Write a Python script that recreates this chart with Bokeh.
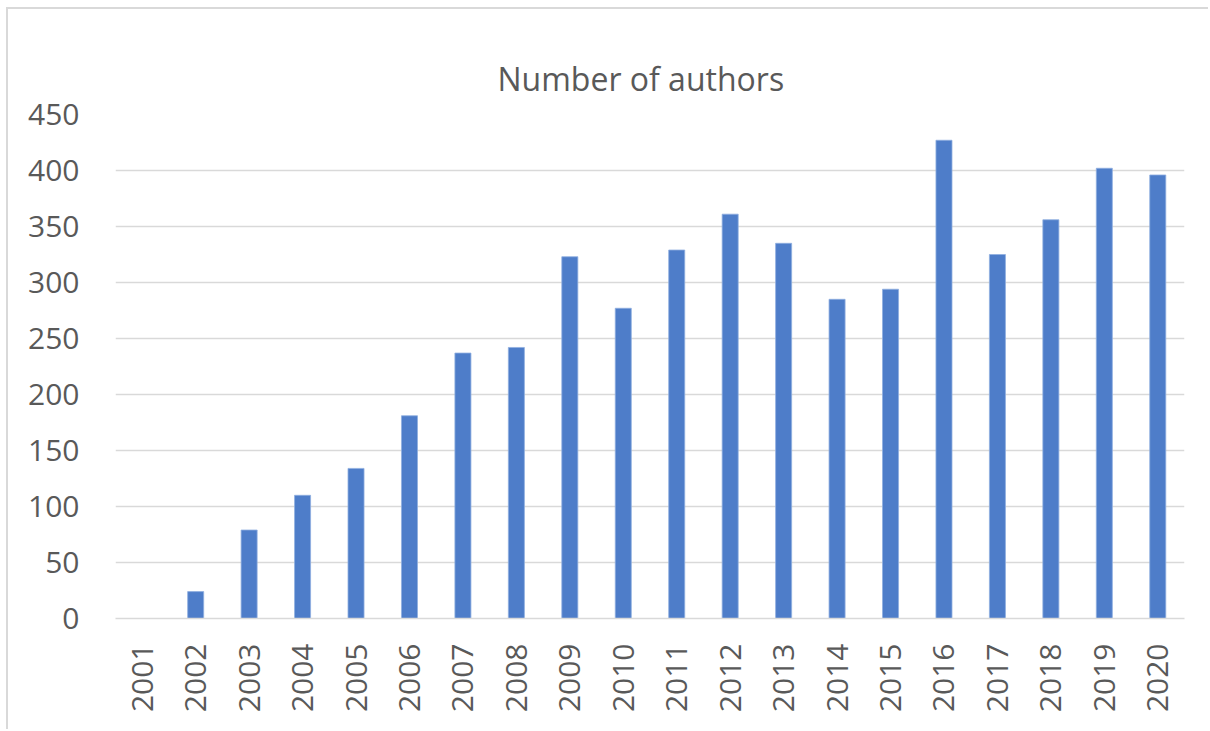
from bokeh.plotting import figure
from bokeh.models import FactorRange, Range1d, SingleIntervalTicker
from bokeh.embed import file_html
from bokeh.resources import INLINE
import math

years = [str(y) for y in range(2001, 2021)]
authors = [0, 24, 79, 110, 134, 181, 237, 242, 323, 277,
           329, 361, 335, 285, 294, 427, 325, 356, 402, 396]

title_text = "Number of authors"
FONT = "Open Sans"
GREY = "#595959"
LINE = "#D9D9D9"

p = figure(
    width=1202, height=722,
    x_range=FactorRange(factors=years, range_padding=0),
    y_range=Range1d(0, 450),
    output_backend="svg", toolbar_location=None,
    min_border_left=107, min_border_right=26,
    min_border_top=105, min_border_bottom=113,
    margin=(7, 0, 0, 6),
)
p.styles = {"border-top": "2px solid #D9D9D9", "border-left": "2px solid #D9D9D9"}

p.vbar(x=years, top=authors, width=0.3,
       fill_color="#4E7DC9", line_color="#8FAEE0", line_width=0.8)

p.title.text = title_text
p.title.align = "left"
p.title.offset = 382
p.title.text_font = FONT
p.title.text_font_size = "32px"
p.title.text_font_style = "normal"
p.title.text_color = GREY
p.title.standoff = 30

p.outline_line_color = None
p.background_fill_color = "white"
p.border_fill_color = "white"

p.xgrid.grid_line_color = None
p.ygrid.grid_line_color = LINE
p.ygrid.grid_line_width = 1.5

p.yaxis.ticker = SingleIntervalTicker(interval=50)
p.yaxis.axis_line_color = None
p.yaxis.major_tick_line_color = None
p.yaxis.minor_tick_line_color = None
p.yaxis.major_tick_in = 0
p.yaxis.major_tick_out = 0
p.yaxis.major_label_standoff = 32
p.yaxis.major_label_text_font = FONT
p.yaxis.major_label_text_font_size = "30px"
p.yaxis.major_label_text_color = GREY

p.xaxis.axis_line_color = LINE
p.xaxis.axis_line_width = 1.5
p.xaxis.major_tick_line_color = None
p.xaxis.minor_tick_line_color = None
p.xaxis.major_tick_in = 0
p.xaxis.major_tick_out = 0
p.xaxis.major_label_orientation = math.pi / 2
p.xaxis.major_label_standoff = 25
p.xaxis.major_label_text_font = FONT
p.xaxis.major_label_text_font_size = "30px"
p.xaxis.major_label_text_color = GREY

open("out.html", "w").write(file_html(p, INLINE))
